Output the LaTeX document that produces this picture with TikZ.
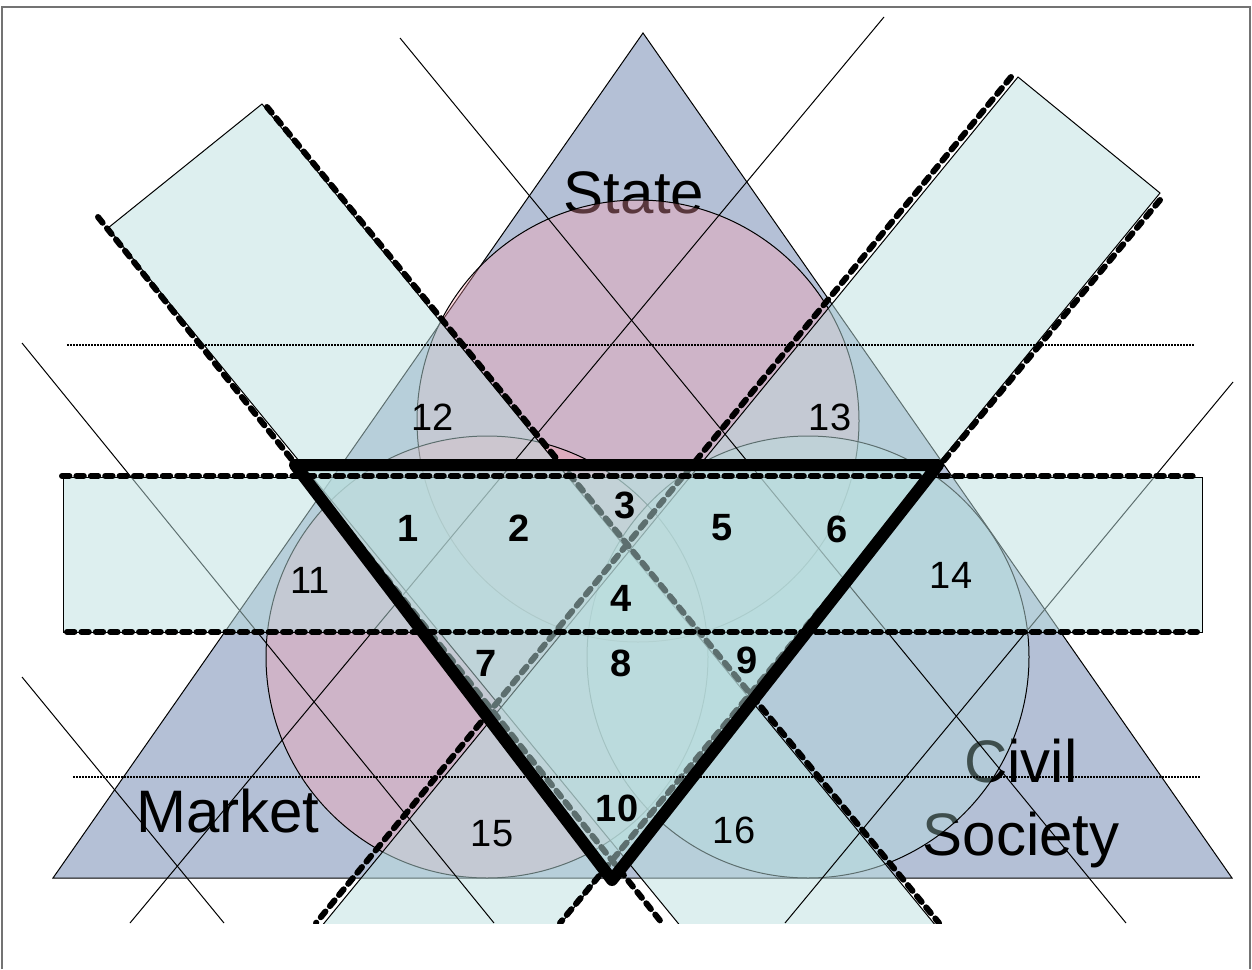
\documentclass[tikz,border=0pt]{standalone}
\usepackage{fontspec}
\setmainfont{Liberation Sans}
\definecolor{trifill}{HTML}{B4C0D6}
\definecolor{rosefill}{HTML}{FFA0B0}
\definecolor{seafill}{HTML}{B4E2DF}
\definecolor{bandfill}{HTML}{BBDFDF}
\tikzset{
  % ytor
  sector/.style={fill=trifill,draw=black,line width=0.5pt},
  circ/.style={draw=black,line width=0.5pt,fill opacity=0.35},
  band/.style={fill=bandfill,fill opacity=0.5,draw=black,line width=0.5pt},
  core/.style={draw=black,line width=6pt,line join=round,line cap=round,
               fill=bandfill,fill opacity=0.5},
  % linjer
  rim/.style={draw=black,line width=3pt,line cap=round,dash pattern=on 3.7pt off 3.5pt},
  wire/.style={draw=black,line width=0.5pt},
  guide/.style={draw=black,line width=0.9pt,dash pattern=on 1pt off 0.5pt},
  frame/.style={draw=black!55,line width=1.2pt},
  % text
  big/.style={font=\fontsize{30}{36.5}\selectfont,align=center,inner sep=0pt},
  num/.style={font=\fontsize{19}{22}\selectfont,inner sep=0pt},
  bnum/.style={font=\fontsize{19}{22}\selectfont\bfseries,inner sep=0pt},
}
\begin{document}
\begin{tikzpicture}[x=0.5pt,y=-0.5pt]
  \useasboundingbox (0,0) rectangle (1252,969);
  \draw[frame] (2,969) -- (2,7) -- (1250,7) -- (1250,969);
  % stora triangeln
  \coordinate (top) at (643,33);
  \coordinate (bl) at (53,878);
  \coordinate (br) at (1232,878);
  \draw[sector] (top) -- (br) -- (bl) -- cycle;
  \node[big,anchor=base] (state) at (634,213) {State};
  \node[big,anchor=base] (market) at (228,832) {Market};
  \node[big,anchor=base] (civil) at (1021,855) {Civil\\Society};
  % cirklar
  \draw[circ,fill=rosefill] (638,421) circle[radius=221];
  \draw[circ,fill=rosefill] (487,657) circle[radius=221];
  \draw[circ,fill=seafill] (808,657) circle[radius=221];
  \begin{scope}
  \clip (0,0) rectangle (1252,923);
  \draw[band] (108,228) -- (262,104) -- (991,993) -- (837,1117) -- cycle;
  \draw[band] (1018,77) -- (1160,193) -- (431,1082) -- (289,966) -- cycle;
  \draw[wire] (400,38) -- (1126,923);
  \draw[wire] (22,343) -- (494,923);
  \draw[wire] (22,677) -- (224,923);
  \draw[wire] (884,17) -- (130,923);
  \draw[wire] (1233,382) -- (785,923);
  \draw[band] (63,477) rectangle (1202,632);
  \draw[rim] (98,217) -- (662,923);
  \draw[rim] (267,107) -- (939,923);
  \draw[rim] (1011,77) -- (316,923);
  \draw[rim] (1160,200) -- (560,923);
  \end{scope}
  % inre triangeln
  \coordinate (a) at (295,465);
  \coordinate (b) at (938,465);
  \coordinate (c) at (612,880);
  \draw[core] (a) -- (b) -- (c) -- cycle;
  \draw[rim] (62,476) -- (1195,476);
  \draw[rim] (67,632) -- (1197,632);
  \draw[guide] (67,345) -- (1195,345);
  \draw[guide] (73,777) -- (1201,777);
  % nummer
  \node[bnum] (n1) at (408,528) {1};
  \node[bnum] (n2) at (519,528) {2};
  \node[bnum] (n3) at (625,505) {3};
  \node[bnum] (n4) at (621,598) {4};
  \node[bnum] (n5) at (722,528) {5};
  \node[bnum] (n6) at (837,529) {6};
  \node[bnum] (n7) at (486,663) {7};
  \node[bnum] (n8) at (621,663) {8};
  \node[bnum] (n9) at (747,660) {9};
  \node[bnum] (n10) at (617,808) {10};
  \node[num] (n11) at (310,580) {11};
  \node[num] (n12) at (433,417) {12};
  \node[num] (n13) at (830,417) {13};
  \node[num] (n14) at (951,575) {14};
  \node[num] (n15) at (492,834) {15};
  \node[num] (n16) at (734,830) {16};
\end{tikzpicture}
\end{document}
